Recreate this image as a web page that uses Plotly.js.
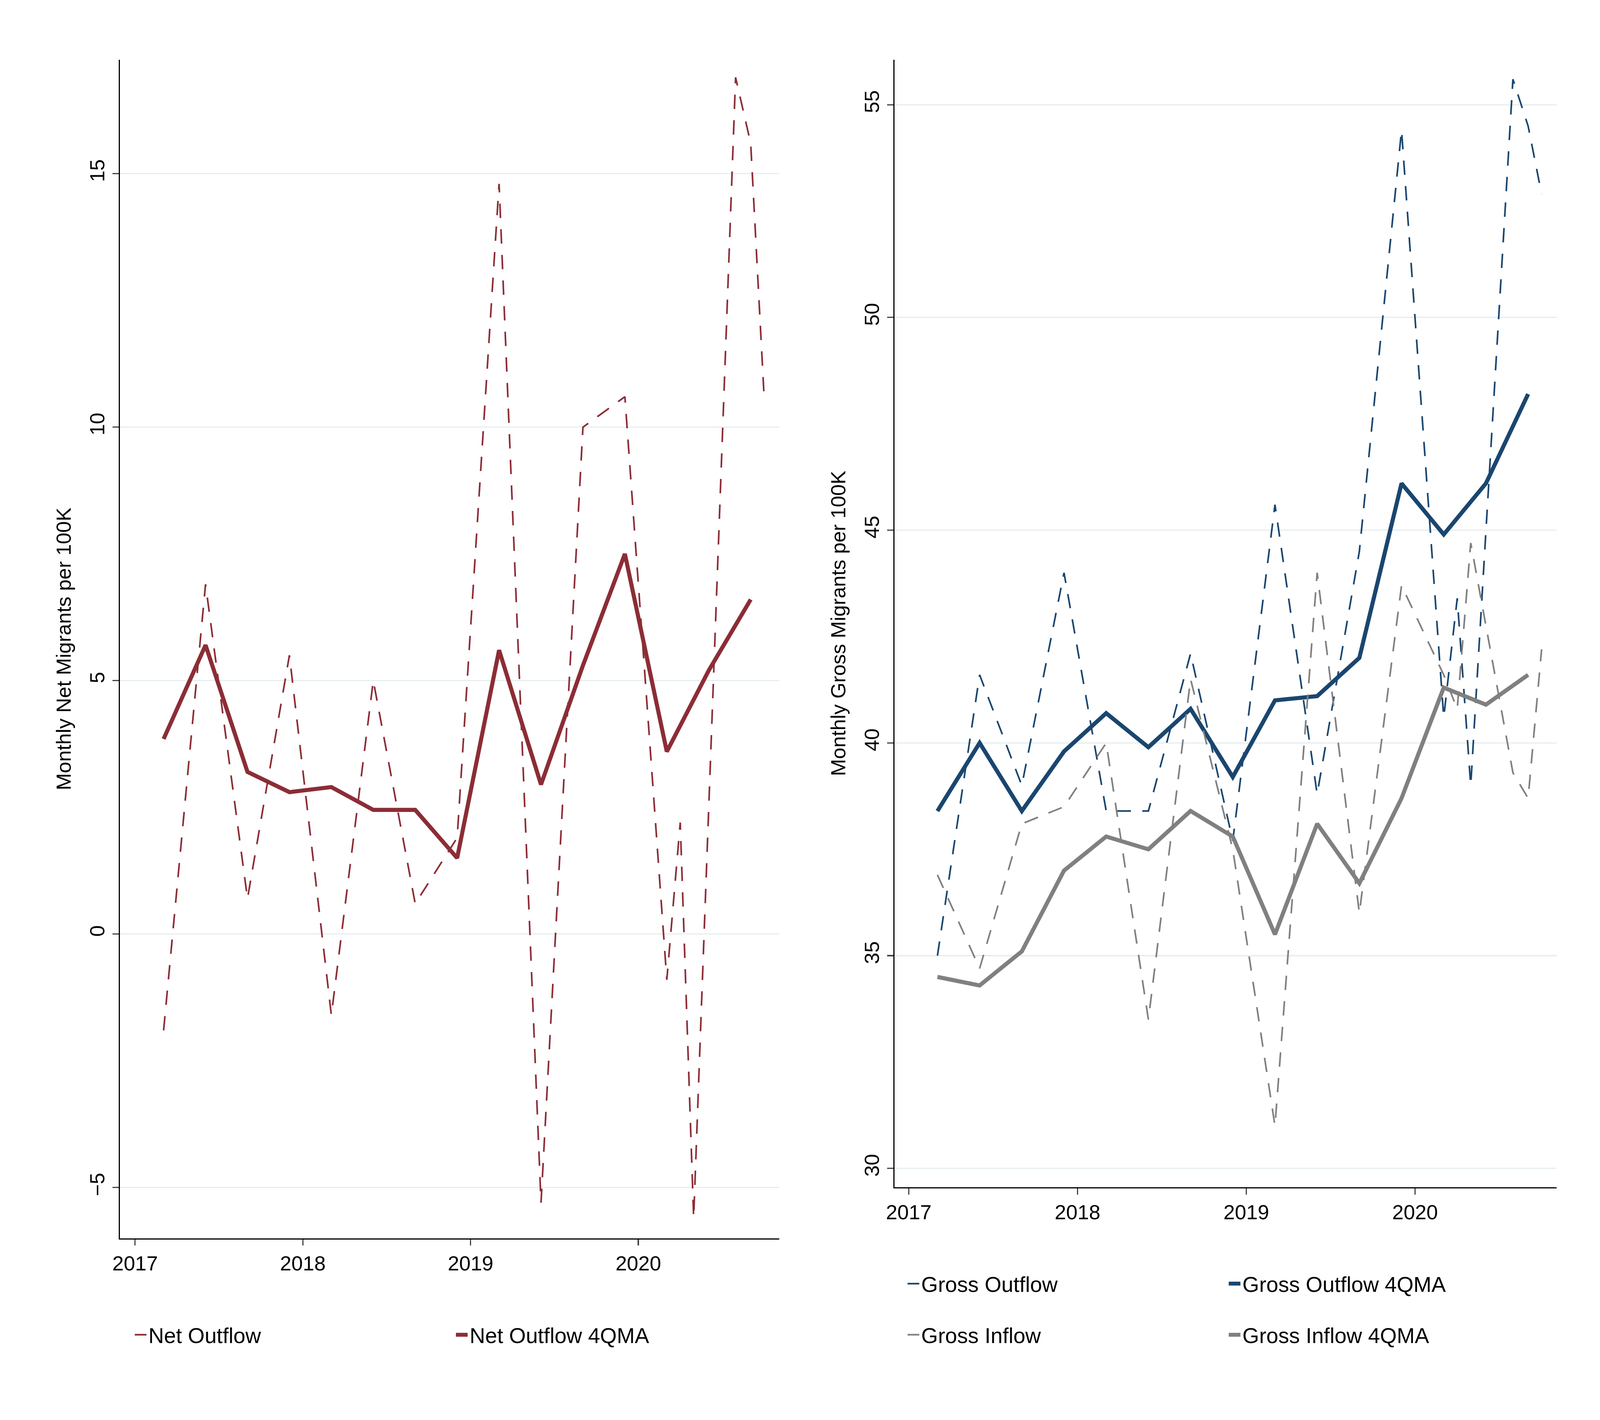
<!DOCTYPE html>
<html>
<head>
<meta charset="utf-8">
<script src="https://cdn.plot.ly/plotly-3.0.1.min.js"></script>
<style>html,body{margin:0;background:#fff;overflow:hidden}#chart{width:100vw;height:100vh}</style>
</head>
<body>
<div id="chart"></div>
<script>
// monthly points (decimal year)
const monthX = [2017.17, 2017.42, 2017.67, 2017.92, 2018.17, 2018.42, 2018.67, 2018.92,
  2019.17, 2019.42, 2019.67, 2019.92, 2020.17, 2020.25, 2020.33, 2020.58, 2020.67, 2020.75];
const netOutflow = [-1.9, 6.9, 0.7, 5.5, -1.6, 5.0, 0.6, 1.9, 14.8, -5.3, 10.0, 10.6, -0.9, 2.2, -5.6, 16.9, 15.6, 10.6];
const grossOutflow = [35.0, 41.6, 39.0, 44.0, 38.4, 38.4, 42.1, 37.7, 45.6, 38.8, 44.5, 54.4, 40.6, 43.4, 39.0, 55.6, 54.5, 52.9];
const grossInflow = [36.9, 34.7, 38.1, 38.5, 40.0, 33.5, 41.5, 37.5, 31.0, 44.0, 36.0, 43.7, 41.6, 40.8, 44.7, 39.3, 38.7, 42.2];

// 4-quarter moving averages
const qmaX = [2017.17, 2017.42, 2017.67, 2017.92, 2018.17, 2018.42, 2018.67, 2018.92,
  2019.17, 2019.42, 2019.67, 2019.92, 2020.17, 2020.42, 2020.67];
const netQMA = [3.85, 5.7, 3.2, 2.8, 2.9, 2.45, 2.45, 1.5, 5.6, 2.95, 5.3, 7.5, 3.6, 5.2, 6.6];
const grossOutQMA = [38.4, 40.0, 38.4, 39.8, 40.7, 39.9, 40.8, 39.2, 41.0, 41.1, 42.0, 46.1, 44.9, 46.1, 48.2];
const grossInQMA = [34.5, 34.3, 35.1, 37.0, 37.8, 37.5, 38.4, 37.8, 35.5, 38.1, 36.7, 38.7, 41.3, 40.9, 41.6];

const yearTicks = [2017, 2018, 2019, 2020];

const W = window.innerWidth, H = window.innerHeight;
const s = W / 1560; // sizes measured on a 1560px-wide copy

const red = '#8c2d36', blue = '#1a466f', grey = '#808080';
const font = 'Liberation Sans, Arial, sans-serif';
const dash = (14 * s) + 'px,' + (11 * s) + 'px';

const traces = [
  { x: monthX, y: netOutflow, name: 'Net Outflow', mode: 'lines', xaxis: 'x', yaxis: 'y', legend: 'legend',
    line: { color: red, width: 1.6 * s, dash } },
  { x: qmaX, y: netQMA, name: 'Net Outflow 4QMA', mode: 'lines', xaxis: 'x', yaxis: 'y', legend: 'legend',
    line: { color: red, width: 4 * s } },
  { x: monthX, y: grossOutflow, name: 'Gross Outflow', mode: 'lines', xaxis: 'x2', yaxis: 'y2', legend: 'legend2',
    line: { color: blue, width: 1.6 * s, dash } },
  { x: qmaX, y: grossOutQMA, name: 'Gross Outflow 4QMA', mode: 'lines', xaxis: 'x2', yaxis: 'y2', legend: 'legend2',
    line: { color: blue, width: 4 * s } },
  { x: monthX, y: grossInflow, name: 'Gross Inflow', mode: 'lines', xaxis: 'x2', yaxis: 'y2', legend: 'legend3',
    line: { color: grey, width: 1.6 * s, dash } },
  { x: qmaX, y: grossInQMA, name: 'Gross Inflow 4QMA', mode: 'lines', xaxis: 'x2', yaxis: 'y2', legend: 'legend3',
    line: { color: grey, width: 4 * s } }
];

const tickFont = { size: 20 * s, color: '#000', family: font };
const xAxisBase = {
  tickvals: yearTicks, ticktext: yearTicks.map(String), showgrid: false, zeroline: false,
  showline: true, linecolor: '#000', linewidth: 1.2 * s, ticks: 'outside', ticklen: 6 * s, tickwidth: 1.2 * s,
  tickfont: tickFont
};
const yAxisBase = {
  showgrid: true, gridcolor: '#e6eef0', gridwidth: 1.2 * s, zeroline: false,
  showline: true, linecolor: '#000', linewidth: 1.2 * s, ticks: 'outside', ticklen: 6 * s, tickwidth: 1.2 * s,
  tickangle: -90, tickfont: tickFont
};
const legendBase = {
  orientation: 'h', xanchor: 'left', yanchor: 'middle', entrywidth: 296 * s, entrywidthmode: 'pixels',
  font: { size: 21 * s, color: '#000', family: font }, bgcolor: 'rgba(0,0,0,0)'
};

const layout = {
  width: W, height: H,
  paper_bgcolor: '#fff', plot_bgcolor: '#fff',
  margin: { l: 0, r: 0, t: 0, b: 0 },
  font: { family: font },
  xaxis: Object.assign({}, xAxisBase, { domain: [0.075, 0.487], range: [2016.91, 2020.84], anchor: 'y' }),
  yaxis: Object.assign({}, yAxisBase, { domain: [0.128, 0.958], range: [-6.0, 17.25], anchor: 'x',
    tickvals: [-5, 0, 5, 10, 15],
    title: { text: 'Monthly Net Migrants per 100K', font: tickFont, standoff: 8 * s } }),
  xaxis2: Object.assign({}, xAxisBase, { domain: [0.559, 0.973], range: [2016.915, 2020.84], anchor: 'y2' }),
  yaxis2: Object.assign({}, yAxisBase, { domain: [0.164, 0.958], range: [29.56, 56.06], anchor: 'x2',
    tickvals: [30, 35, 40, 45, 50, 55],
    title: { text: 'Monthly Gross Migrants per 100K', font: tickFont, standoff: 8 * s } }),
  legend: Object.assign({}, legendBase, { x: 0.083, y: 0.06 }),
  legend2: Object.assign({}, legendBase, { x: 0.566, y: 0.096 }),
  legend3: Object.assign({}, legendBase, { x: 0.566, y: 0.06 })
};

Plotly.newPlot('chart', traces, layout, { displayModeBar: false, staticPlot: true });
</script>
</body>
</html>
